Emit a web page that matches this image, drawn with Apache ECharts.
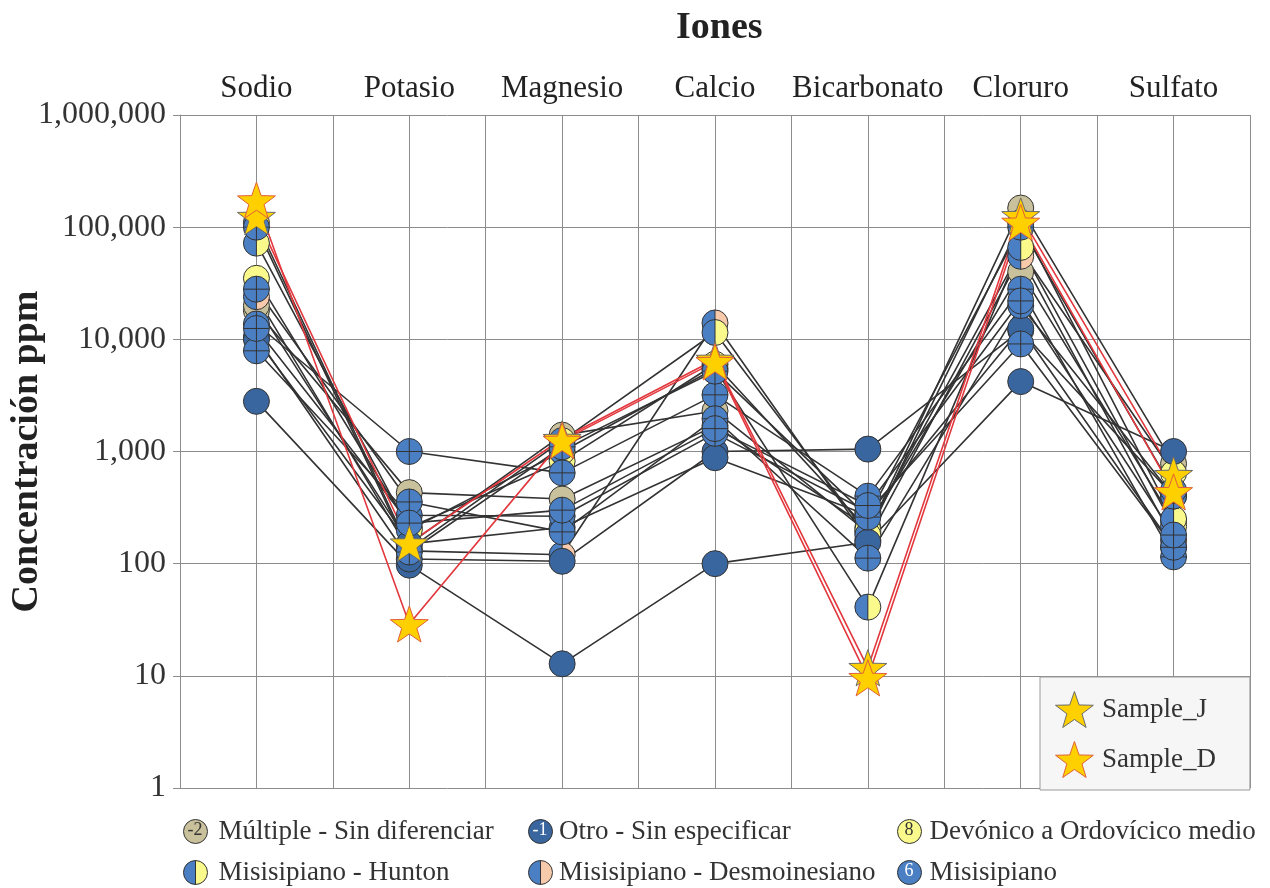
<!DOCTYPE html>
<html><head><meta charset="utf-8">
<script src="https://cdn.jsdelivr.net/npm/echarts@6/dist/echarts.min.js"></script>
<style>html,body{margin:0;padding:0;background:#fff}#c{width:1270px;height:888px}</style>
</head><body><div id="c"></div>
<script>
// ---- data ----
const ions = ['Sodio', 'Potasio', 'Magnesio', 'Calcio', 'Bicarbonato', 'Cloruro', 'Sulfato'];
// order: Sodio, Potasio, Magnesio, Calcio, Bicarbonato, Cloruro, Sulfato (ppm)
const multiple1 = [18000, 430, 377, 1700, 210, 40000, 240];
const multiple2 = [20000, 150, 1400, 2300, 190, 148000, 780];
const otro1 = [2800, 97, 12.8, 100, 155, 4200, 1000];
const otro2 = [10500, 110, 105, 1000, 1050, 12000, 400];
const otro3 = [10000, 150, 210, 880, 270, 12500, 140];
const devonico1 = [35000, 210, 820, 6000, 200, 62000, 640];
const hunton1 = [72000, 200, 1000, 5500, 41, 66000, 215];
const hunton2 = [110000, 135, 1250, 11500, 180, 110000, 250];
const desmoin1 = [24000, 130, 120, 14000, 162, 55000, 162];
const misi1 = [13700, 1000, 645, 3200, 400, 28000, 115];
const misi2 = [7900, 270, 265, 1450, 290, 9100, 140];
const misi3 = [28000, 355, 192, 1960, 112, 20000, 400];
const misi4 = [100000, 127, 1100, 5200, 260, 100000, 450];
const misi5 = [12500, 230, 300, 1600, 330, 22000, 180];
const sampleJ = [124000, 152, 1300, 6600, 11.8, 126000, 620];
const sampleD = [174000, 29, 1250, 6300, 9.6, 110000, 436];
const legendNumbers = ['-2', '-1', '8', '6'];

// ---- styles ----
const FONT = '"Liberation Serif", "DejaVu Serif", serif';
const BLUE = '#4b7fc3', DARK = '#3a669f', TAN = '#c9c19b', YEL = '#f9f98c', PEACH = '#f7caab';
const CROSS = 'path://M0,-10A10,10 0 1,1 0,10A10,10 0 1,1 0,-10Z M-10,0L10,0 M0,-10L0,10';
const VLINE = 'path://M0,-10A10,10 0 1,1 0,10A10,10 0 1,1 0,-10Z M0,-10L0,10';
const STAR = 'path://M0,-10L2.35,-3.24L9.51,-3.09L3.8,1.24L5.88,8.09L0,4.05L-5.88,8.09L-3.8,1.24L-9.51,-3.09L-2.35,-3.24Z';
function half(c2) {
  return {type: 'linear', x: 0, y: 0, x2: 1, y2: 0, colorStops: [
    {offset: 0, color: BLUE}, {offset: 0.5, color: BLUE}, {offset: 0.5, color: c2}, {offset: 1, color: c2}]};
}
const G = {
  mult: {name: 'Múltiple - Sin diferenciar', symbol: 'circle', color: TAN},
  otro: {name: 'Otro - Sin especificar', symbol: 'circle', color: DARK},
  dev: {name: 'Devónico a Ordovícico medio', symbol: 'circle', color: YEL},
  hun: {name: 'Misisipiano - Hunton', symbol: VLINE, color: half(YEL)},
  des: {name: 'Misisipiano - Desmoinesiano', symbol: VLINE, color: half(PEACH)},
  mis: {name: 'Misisipiano', symbol: CROSS, color: BLUE}
};
const samples = [
  ['mult', multiple1], ['mult', multiple2], ['dev', devonico1], ['des', desmoin1],
  ['hun', hunton1], ['hun', hunton2], ['otro', otro1], ['otro', otro2], ['otro', otro3],
  ['mis', misi1], ['mis', misi2], ['mis', misi3], ['mis', misi4], ['mis', misi5]
];

const series = [];
samples.forEach(([g, d]) => {
  series.push({type: 'scatter', name: G[g].name, data: d, symbol: G[g].symbol, symbolSize: 26,
    itemStyle: {color: G[g].color, borderColor: '#333', borderWidth: 1, opacity: 1}, z: 3});
});
samples.forEach(([g, d]) => {
  series.push({type: 'line', name: G[g].name, data: d, symbol: 'none', silent: true,
    lineStyle: {color: '#333', width: 1.6}, z: 2});
});
[['Sample_J', sampleJ, '#6b6b6b'], ['Sample_D', sampleD, '#e0603a']].forEach(([n, d, bc]) => {
  series.push({type: 'line', name: n, data: d, symbol: 'none', silent: true,
    lineStyle: {color: '#e2373c', width: 1.6}, z: 2});
  series.push({type: 'scatter', name: n, data: d, symbol: STAR, symbolSize: 38, symbolKeepAspect: true,
    itemStyle: {color: '#ffd000', borderColor: bc, borderWidth: 1, opacity: 1}, z: 4});
});

const legText = {fontFamily: FONT, fontSize: 27, color: '#333', lineHeight: 24};
function oneLegend(g, left, top, w) {
  const sym = G[g].symbol === CROSS ? 'circle' : G[g].symbol;
  return {orient: 'horizontal', left: left, top: top, padding: 0, itemWidth: w, itemHeight: 24,
    selectedMode: false, textStyle: legText,
    data: [{name: G[g].name, icon: sym, itemStyle: {color: G[g].color, borderColor: '#333', borderWidth: 1}}]};
}
function num(x, y, t, fill) {
  return {type: 'text', x: x, y: y, z: 100, silent: true,
    style: {text: t, fill: fill, font: '18px ' + FONT, align: 'center', verticalAlign: 'middle'}};
}

const option = {
  animation: false,
  backgroundColor: '#fff',
  title: {text: 'Iones', left: 671, top: 4,
    textStyle: {fontFamily: FONT, fontWeight: 'bold', fontSize: 38, color: '#222'}},
  grid: {left: 180, right: 20, top: 115, bottom: 100, containLabel: false, outerBoundsMode: 'none'},
  xAxis: [
    {type: 'category', data: ions, position: 'top', boundaryGap: true,
      axisLine: {show: false}, axisTick: {show: false}, splitLine: {show: false},
      axisLabel: {interval: 0, fontFamily: FONT, fontSize: 31, color: '#222', margin: 11}},
    {type: 'value', min: 0, max: 7, interval: 0.5, position: 'bottom',
      axisLine: {show: false}, axisTick: {show: false}, axisLabel: {show: false},
      splitLine: {show: true, lineStyle: {color: '#8c8c8c', width: 1}}}
  ],
  yAxis: {type: 'log', logBase: 10, min: 1, max: 1000000, splitNumber: 6,
    name: 'Concentración ppm', nameLocation: 'middle', nameGap: 134, nameMoveOverlap: false,
    nameTextStyle: {fontFamily: FONT, fontWeight: 'bold', fontSize: 38, color: '#222'},
    axisLine: {show: true, lineStyle: {color: '#8c8c8c'}},
    axisTick: {show: true, length: 7, lineStyle: {color: '#8c8c8c'}},
    axisLabel: {fontFamily: FONT, fontSize: 32, color: '#333', margin: 14,
      formatter: v => Math.round(v).toLocaleString('en-US')},
    splitLine: {show: true, lineStyle: {color: '#8c8c8c', width: 1}}},
  legend: [
    oneLegend('mult', 183, 818, 36),
    oneLegend('hun', 183, 859, 36),
    oneLegend('otro', 528, 818, 27),
    oneLegend('des', 528, 859, 27),
    oneLegend('dev', 897, 818, 30),
    oneLegend('mis', 897, 859, 30),
    {orient: 'vertical', left: 1040, top: 677, padding: [14, 34, 12, 15], itemGap: 13,
      itemWidth: 45, itemHeight: 36, selectedMode: false,
      backgroundColor: '#f6f6f6', borderColor: '#9a9a9a', borderWidth: 1,
      textStyle: legText,
      data: [
        {name: 'Sample_J', icon: STAR, itemStyle: {color: '#ffd000', borderColor: '#6b6b6b', borderWidth: 1}},
        {name: 'Sample_D', icon: STAR, itemStyle: {color: '#ffd000', borderColor: '#e0603a', borderWidth: 1}}
      ]}
  ],
  graphic: [
    num(195, 830, legendNumbers[0], '#333'),
    num(540, 830, legendNumbers[1], '#fff'),
    num(909, 830, legendNumbers[2], '#333'),
    num(909, 871, legendNumbers[3], '#fff')
  ],
  series: series
};
const chart = echarts.init(document.getElementById('c'), null, {renderer: 'canvas'});
chart.setOption(option);
</script></body></html>
